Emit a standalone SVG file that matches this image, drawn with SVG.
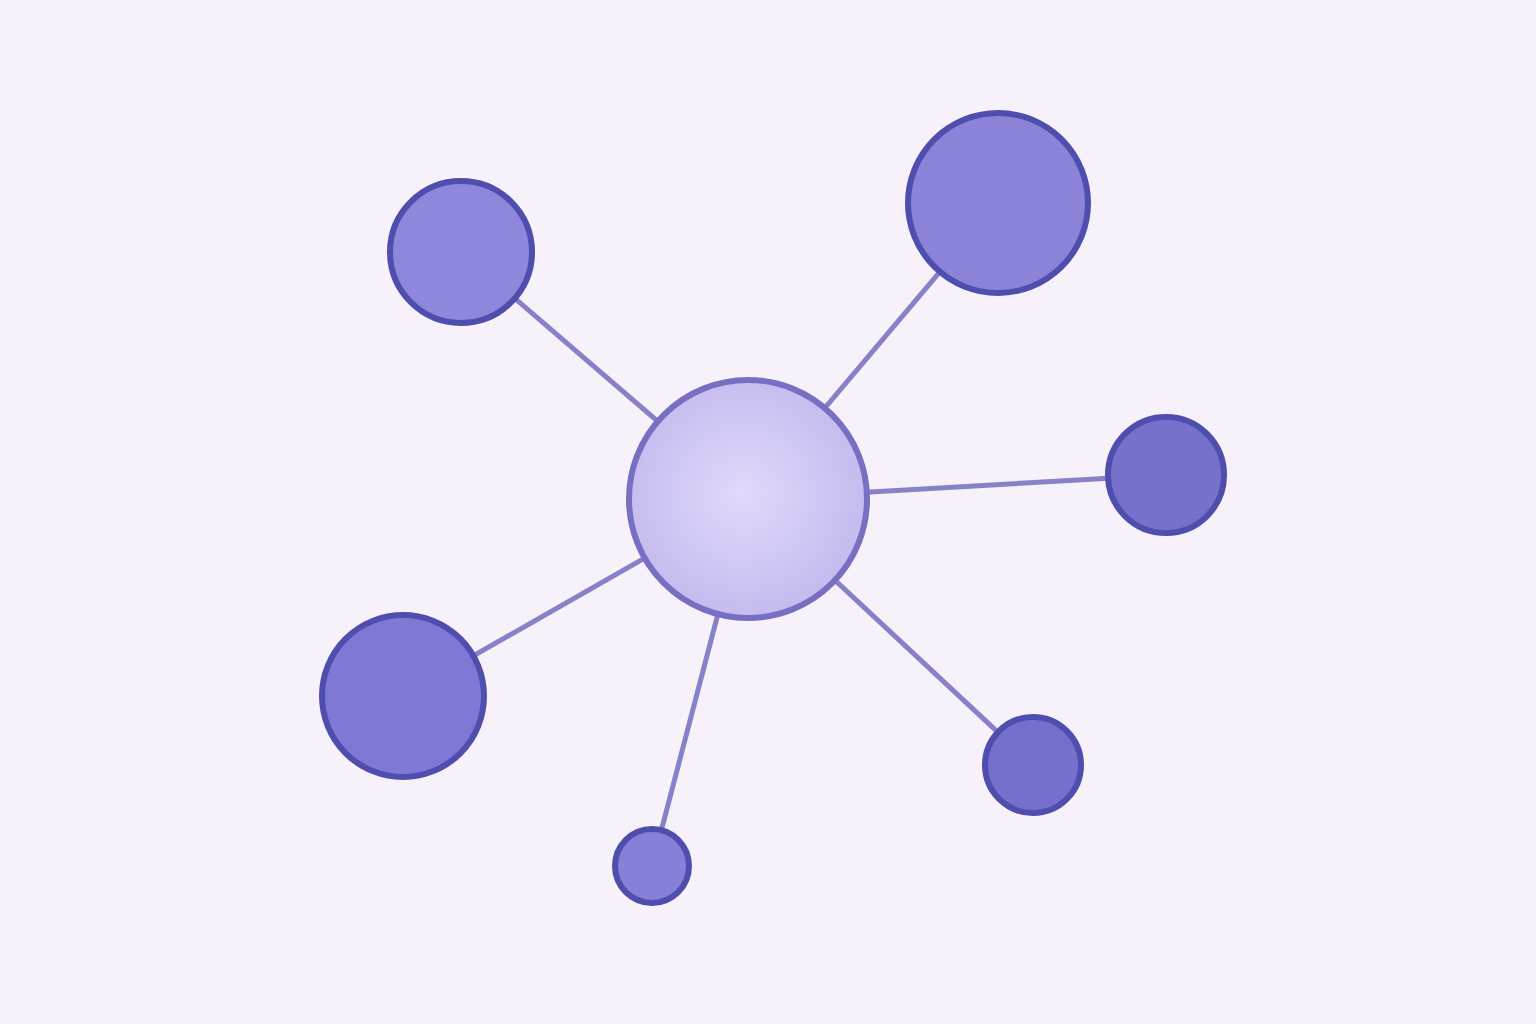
<svg xmlns="http://www.w3.org/2000/svg" width="1536" height="1024" viewBox="0 0 1536 1024">
<defs>
<radialGradient id="hub" cx="0.48" cy="0.48" r="0.55">
<stop offset="0" stop-color="#e2dafb"/>
<stop offset="1" stop-color="#c2b9ee"/>
</radialGradient>
<style>
.edge{stroke:#8781c8;stroke-width:5;stroke-linecap:round;fill:none}
.sat{stroke:#4f4eae;stroke-width:6}
.hub{stroke:#7770c2;stroke-width:6;fill:url(#hub)}
</style>
</defs>
<rect width="1536" height="1024" fill="#f7f2fa"/>
<g id="connectors">
<line class="edge" x1="748" y1="499" x2="461" y2="252"/>
<line class="edge" x1="748" y1="499" x2="998" y2="203"/>
<line class="edge" x1="748" y1="499" x2="1166" y2="475"/>
<line class="edge" x1="748" y1="499" x2="403" y2="696"/>
<line class="edge" x1="748" y1="499" x2="652" y2="866"/>
<line class="edge" x1="748" y1="499" x2="1033" y2="765"/>
</g>
<g id="hub-node"><circle class="hub" cx="748" cy="499" r="119"/></g>
<g id="node-top-left"><circle class="sat" cx="461" cy="252" r="71" fill="#8e88dc"/></g>
<g id="node-top-right"><circle class="sat" cx="998" cy="203" r="90" fill="#8a83d8"/></g>
<g id="node-right"><circle class="sat" cx="1166" cy="475" r="58" fill="#7672cc"/></g>
<g id="node-bottom-left"><circle class="sat" cx="403" cy="696" r="81" fill="#7f78d4"/></g>
<g id="node-bottom"><circle class="sat" cx="652" cy="866" r="37" fill="#8680d8"/></g>
<g id="node-bottom-right"><circle class="sat" cx="1033" cy="765" r="48" fill="#7570cc"/></g>
</svg>
